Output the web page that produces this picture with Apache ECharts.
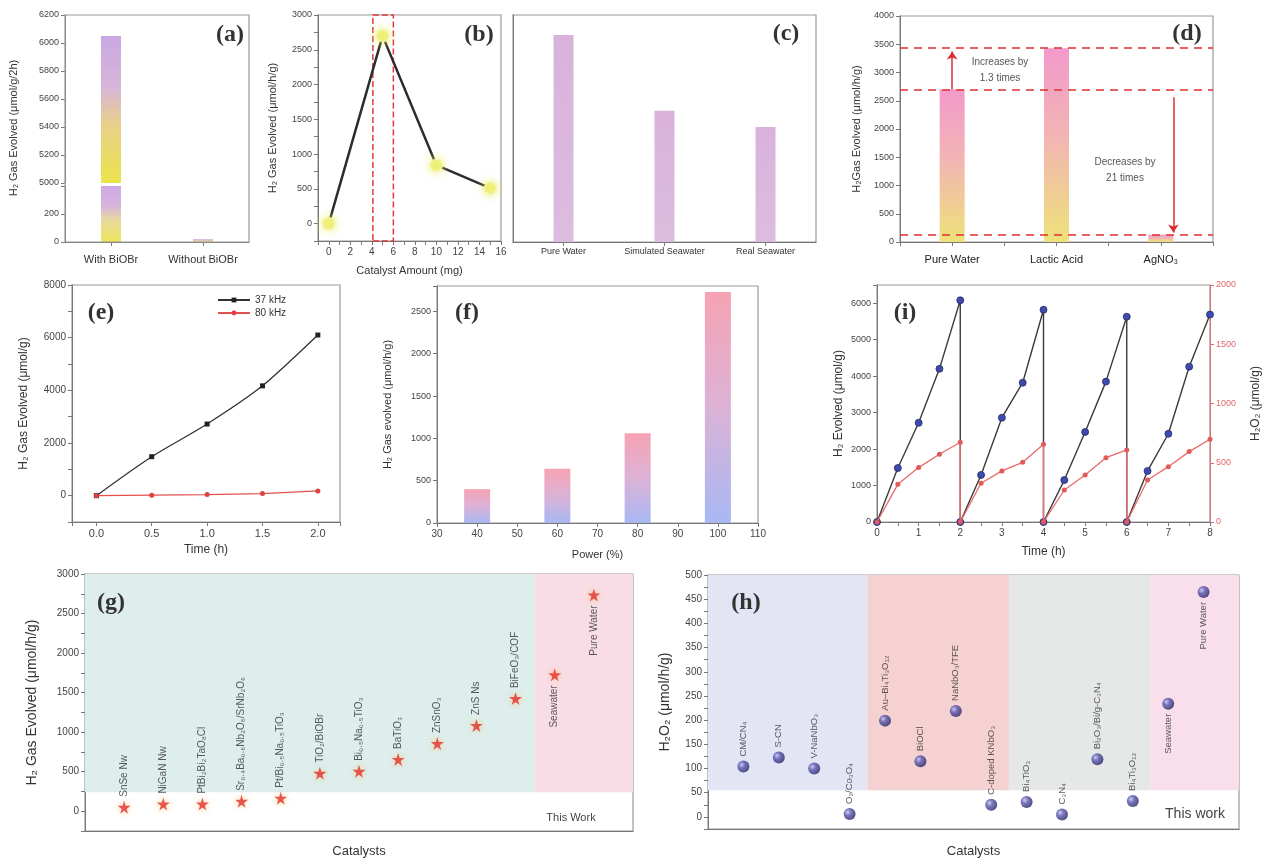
<!DOCTYPE html>
<html>
<head>
<meta charset="utf-8">
<script src="https://cdn.jsdelivr.net/npm/echarts@6/dist/echarts.min.js"></script>
<style>
  html, body { margin: 0; padding: 0; background: #fff; }
  #chart { width: 1277px; height: 859px; }
</style>
</head>
<body>
<div id="chart"></div>
<script>
// (a) with / without catalyst, broken y axis
const aLabels = ['With BiOBr', 'Without BiOBr'];
const aH2 = [6050, 20];
// (b) catalyst amount
const bAmount = [0, 5, 10, 15];
const bH2 = [0, 2700, 840, 510];
// (c) water source
const cSolutions = ['Pure Water', 'Simulated Seawater', 'Real Seawater'];
const cH2 = [2700, 1710, 1500];
// (d) sacrificial agents
const dSolutions = ['Pure Water', 'Lactic Acid', 'AgNO₃'];
const dH2 = [2700, 3430, 129];
// (e) frequency
const eTime = [0, 0.5, 1.0, 1.5, 2.0];
const e37 = [0, 1480, 2720, 4170, 6100];
const e80 = [0, 20, 40, 80, 180];
// (f) ultrasonic power
const fPower = [40, 60, 80, 100];
const fH2 = [400, 640, 1060, 2730];
// (i) cycling, H2 and H2O2
const iTime = [0, 0.5, 1, 1.5, 2, 2, 2.5, 3, 3.5, 4, 4, 4.5, 5, 5.5, 6, 6, 6.5, 7, 7.5, 8];
const iH2 = [0, 1480, 2720, 4200, 6080, 0, 1290, 2860, 3820, 5820, 0, 1150, 2470, 3850, 5630, 0, 1400, 2420, 4260, 5690];
const iH2O2 = [0, 318, 459, 572, 673, 0, 327, 431, 504, 656, 0, 270, 397, 543, 608, 0, 355, 467, 594, 698];
// (g) H2 comparison
const gCatalysts = ['SnSe Nw', 'NiGaN Nw', 'PtBi₂Bi₂TaO₈Cl', 'Sr₀.₄Ba₀.₆Nb₂O₆/SrNb₂O₆', 'Pt/Bi₀.₅Na₀.₅TiO₃', 'TiO₂/BiOBr',
  'Bi₀.₅Na₀.₅TiO₃', 'BaTiO₃', 'ZnSnO₃', 'ZnS Ns', 'BiFeO₃/COF', 'Seawater', 'Pure Water'];
const gH2 = [50, 90, 90, 125, 165, 480, 505, 655, 855, 1085, 1425, 1725, 2735];
// (h) H2O2 comparison
const hCatalysts = ['CM/CN₄', 'S-CN', 'V-NaNbO₃', 'O₂/Co₃O₄', 'Au–Bi₄Ti₃O₁₂', 'BiOCl', 'NaNbO₃/TFE', 'C-doped KNbO₃',
  'Bi₄TiO₃', 'C₃N₄', 'Bi₂O₃/Bi/g-C₃N₄', 'Bi₄Ti₃O₁₂', 'Seawater', 'Pure Water'];
const hH2O2 = [104, 123, 100, 6, 199, 115, 219, 25, 31, 5, 119, 33, 234, 465];
const thisWorkCount = 2; // last entries of g and h

const FONT = '"Liberation Sans", Arial, sans-serif';
const SERIF = '"Liberation Serif", "Times New Roman", serif';
const AXIS = '#777';
const A_LOW_MAX = 400;

function merge(base, extra) {
  for (const k in extra) {
    const v = extra[k];
    if (v && typeof v === 'object' && !Array.isArray(v) && base[k] && typeof base[k] === 'object') {
      base[k] = merge(Object.assign({}, base[k]), v);
    } else {
      base[k] = v;
    }
  }
  return base;
}

function box(left, top, right, bottom, show) {
  return {left, top, width: right - left, height: bottom - top, show: show !== false,
    borderColor: '#9a9a9a', borderWidth: 1.2, backgroundColor: 'transparent'};
}

function axis(type, gridIndex, extra) {
  return merge({
    type, gridIndex,
    axisLine: {show: true, onZero: false, lineStyle: {color: AXIS}},
    axisTick: {show: true, length: 4, lineStyle: {color: AXIS}},
    axisLabel: {fontSize: 10, color: '#444', fontFamily: FONT, margin: 6, formatter: v => String(v)},
    splitLine: {show: false},
    nameLocation: 'middle',
    nameTextStyle: {fontSize: 12, color: '#333', fontFamily: FONT}
  }, extra || {});
}

const every = (step, minShown) => v => (v >= (minShown || 0) && Math.abs(v / step - Math.round(v / step)) < 1e-6) ? String(Math.round(v * 100) / 100) : '';

function grad(stops) {
  return {type: 'linear', x: 0, y: 0, x2: 0, y2: 1, colorStops: stops.map(s => ({offset: s[0], color: s[1]}))};
}

const starPath = 'path://M50,0 L61,35 L98,35 L68,57 L79,91 L50,70 L21,91 L32,57 L2,35 L39,35 Z';
const sphere = {type: 'radial', x: 0.35, y: 0.35, r: 0.75, colorStops: [
  {offset: 0, color: '#c4c4f4'}, {offset: 0.35, color: '#5a58b0'}, {offset: 1, color: '#1d1c58'}]};

function catLabel(names, size) {
  return {
    show: true, position: 'top', rotate: 90, align: 'left', verticalAlign: 'middle',
    distance: 4, fontSize: size, color: '#333', fontFamily: FONT,
    formatter: p => names[p.dataIndex]
  };
}
function catData(values) {
  return values.map((v, i) => {
    const item = {value: [i + 1, v]};
    if (i >= values.length - thisWorkCount) {
      item.label = {position: 'bottom', align: 'right'};
    }
    return item;
  });
}

const grids = [
  box(65, 15, 249, 183, false),   // 0 a top
  box(65, 186, 249, 242, false),  // 1 a bottom
  box(318, 15, 501, 241),         // 2 b
  box(513, 15, 816, 242),         // 3 c
  box(900, 16, 1213, 242),        // 4 d
  box(72, 285, 340, 522),         // 5 e
  box(437, 286, 758, 523),        // 6 f
  box(877, 285, 1210, 522),       // 7 i
  box(85, 574, 633, 832),         // 8 g
  box(708, 575, 1239, 832)        // 9 h
];

const xAxes = [
  axis('category', 0, {data: aLabels, show: false}),
  axis('category', 1, {data: aLabels, axisTick: {alignWithLabel: true},
    axisLabel: {fontSize: 11, color: '#333', margin: 12}}),
  axis('value', 2, {min: -1, max: 16, interval: 1, axisLabel: {formatter: every(2)},
    name: 'Catalyst Amount (mg)', nameGap: 24, nameTextStyle: {fontSize: 11}}),
  axis('category', 3, {data: cSolutions, axisTick: {alignWithLabel: true},
    axisLabel: {fontSize: 9, color: '#333', margin: 5, interval: 0}}),
  axis('value', 4, {min: -0.5, max: 2.5, interval: 0.5,
    axisLabel: {fontSize: 11, color: '#222', margin: 12,
      formatter: v => (Math.abs(v - Math.round(v)) < 1e-6 && v >= 0) ? dSolutions[Math.round(v)] : ''}}),
  axis('value', 5, {min: -0.22, max: 2.2, axisLabel: {fontSize: 11,
      formatter: v => (v >= 0 && Math.abs(v * 2 - Math.round(v * 2)) < 1e-6) ? v.toFixed(1) : ''},
    name: 'Time (h)', nameGap: 22, nameTextStyle: {fontSize: 12}}),
  axis('value', 6, {min: 30, max: 110, interval: 10, axisLabel: {fontSize: 10},
    name: 'Power (%)', nameGap: 26, nameTextStyle: {fontSize: 11}}),
  axis('value', 7, {min: 0, max: 8, interval: 0.5, axisLabel: {fontSize: 10, formatter: every(1)},
    name: 'Time (h)', nameGap: 24, nameTextStyle: {fontSize: 12}}),
  axis('value', 8, {min: 0, max: 14, axisTick: {show: false}, axisLabel: {show: false},
    name: 'Catalysts', nameGap: 14, nameTextStyle: {fontSize: 13}}),
  axis('value', 9, {min: 0, max: 15, axisTick: {show: false}, axisLabel: {show: false},
    name: 'Catalysts', nameGap: 16, nameTextStyle: {fontSize: 13}})
];

const yAxes = [
  axis('value', 0, {min: 5000, max: 6200, interval: 200, axisLabel: {fontSize: 9}}),
  axis('value', 1, {min: 0, max: A_LOW_MAX, interval: 200,
    axisLabel: {fontSize: 9, formatter: v => v < A_LOW_MAX ? String(v) : ''}}),
  axis('value', 2, {min: -250, max: 3000, interval: 250, axisLabel: {fontSize: 9, formatter: every(500)},
    name: 'H₂ Gas Evolved (μmol/h/g)', nameGap: 40, nameTextStyle: {fontSize: 11}}),
  axis('value', 3, {min: 0, max: 2960, axisTick: {show: false}, axisLabel: {show: false}}),
  axis('value', 4, {min: 0, max: 4000, interval: 500, axisLabel: {fontSize: 9},
    name: 'H₂Gas Evolved (μmol/h/g)', nameGap: 38, nameTextStyle: {fontSize: 11}}),
  axis('value', 5, {min: -1000, max: 8000, interval: 1000, axisLabel: {fontSize: 10, formatter: every(2000)},
    name: 'H₂ Gas Evolved (μmol/g)', nameGap: 42, nameTextStyle: {fontSize: 12}}),
  axis('value', 6, {min: 0, max: 2800, interval: 500, axisLabel: {fontSize: 9, formatter: every(500)},
    name: 'H₂ Gas evolved (μmol/h/g)', nameGap: 44, nameTextStyle: {fontSize: 11}}),
  axis('value', 7, {min: 0, max: 6500, interval: 1000, axisLabel: {fontSize: 9, formatter: every(1000)},
    name: 'H₂ Evolved (μmol/g)', nameGap: 32, nameTextStyle: {fontSize: 12}}),
  axis('value', 7, {position: 'right', min: 0, max: 2000, interval: 500,
    axisLine: {lineStyle: {color: '#e07070'}}, axisTick: {lineStyle: {color: '#e07070'}},
    axisLabel: {fontSize: 9, color: '#e06a6a'},
    name: 'H₂O₂ (μmol/g)', nameGap: 40, nameTextStyle: {fontSize: 12}}),
  axis('value', 8, {min: -250, max: 3000, interval: 250, axisLabel: {fontSize: 10, formatter: every(500)},
    name: 'H₂ Gas Evolved (μmol/h/g)', nameGap: 46, nameTextStyle: {fontSize: 14}}),
  axis('value', 9, {min: -25, max: 500, interval: 25, axisLabel: {fontSize: 10, formatter: every(50)},
    name: 'H₂O₂ (μmol/h/g)', nameGap: 36, nameTextStyle: {fontSize: 14}})
];

const series = [
  // (a) upper segment
  {type: 'bar', xAxisIndex: 0, yAxisIndex: 0, barWidth: 20, data: aH2,
    itemStyle: {color: grad([[0, '#c9a8e3'], [0.35, '#d7b6d9'], [0.6, '#e8cf8a'], [1, '#ece44a']])}},
  // (a) lower segment
  {type: 'bar', xAxisIndex: 1, yAxisIndex: 1, barWidth: 20, data: aH2.map(v => Math.min(v, A_LOW_MAX)),
    itemStyle: {color: grad([[0, '#cda9e4'], [0.35, '#d6b3dc'], [0.6, '#e6d8a0'], [1, '#efe65c']])}},
  // (b)
  {type: 'line', xAxisIndex: 2, yAxisIndex: 2, data: bAmount.map((x, i) => [x, bH2[i]]),
    symbol: 'circle', symbolSize: 12, z: 3,
    lineStyle: {color: '#2d2d2d', width: 2.5},
    itemStyle: {color: '#eef07a', borderColor: '#f6f6b0', borderWidth: 1, shadowBlur: 8, shadowColor: '#eeee60'},
    markArea: {silent: true, itemStyle: {color: 'rgba(0,0,0,0)', borderColor: '#e03a3a', borderWidth: 1.5, borderType: 'dashed'},
      data: [[{xAxis: 4.1, yAxis: -250}, {xAxis: 6, yAxis: 3000}]]}},
  // (c)
  {type: 'bar', xAxisIndex: 3, yAxisIndex: 3, barWidth: 20, data: cH2,
    itemStyle: {color: grad([[0, '#d9b2dc'], [1, '#dcbcdf']])}},
  // (d)
  {type: 'bar', xAxisIndex: 4, yAxisIndex: 4, barWidth: 25, data: dH2.map((v, i) => [i, v]),
    itemStyle: {color: grad([[0, '#f29acb'], [0.45, '#f2b4b4'], [1, '#eee27a']])},
    markLine: {silent: true, symbol: 'none', label: {show: false},
      lineStyle: {color: '#e03030', type: [8, 6], width: 1.6},
      data: dH2.map(v => ({yAxis: v}))}},
  {type: 'line', xAxisIndex: 4, yAxisIndex: 4, data: [],
    markLine: {silent: true, symbol: ['none', 'arrow'], symbolSize: 8, label: {show: false},
      lineStyle: {color: '#d83030', type: 'solid', width: 1.5},
      data: [
        [{coord: [0, dH2[0]]}, {coord: [0, dH2[1] - 60]}],
        [{coord: [2.12, 2560]}, {coord: [2.12, dH2[2] + 40]}]
      ]}},
  // (e)
  {name: '37 kHz', type: 'line', xAxisIndex: 5, yAxisIndex: 5, data: eTime.map((t, i) => [t, e37[i]]),
    smooth: 0.3, symbol: 'rect', symbolSize: 5, lineStyle: {color: '#333', width: 1.3}, itemStyle: {color: '#222'}},
  {name: '80 kHz', type: 'line', xAxisIndex: 5, yAxisIndex: 5, data: eTime.map((t, i) => [t, e80[i]]),
    symbol: 'circle', symbolSize: 5, lineStyle: {color: '#e45050', width: 1.3}, itemStyle: {color: '#e04040'}},
  // (f)
  {type: 'bar', xAxisIndex: 6, yAxisIndex: 6, barWidth: 26, data: fPower.map((x, i) => [x, fH2[i]]),
    itemStyle: {color: grad([[0, '#f6a3b3'], [0.5, '#dcb2d6'], [1, '#a8b8f3']])}},
  // (i)
  {type: 'line', xAxisIndex: 7, yAxisIndex: 7, data: iTime.map((t, i) => [t, iH2[i]]),
    symbol: 'circle', symbolSize: 7, z: 3, lineStyle: {color: '#3a3a3a', width: 1.4},
    itemStyle: {color: '#3d4bb0', borderColor: '#2a2a60', borderWidth: 0.8}},
  {type: 'line', xAxisIndex: 7, yAxisIndex: 8, data: iTime.map((t, i) => [t, iH2O2[i]]),
    symbol: 'circle', symbolSize: 5, z: 4, lineStyle: {color: '#e86a6a', width: 1.3},
    itemStyle: {color: '#e05a5a'}},
  // (g) background groups
  {type: 'line', xAxisIndex: 8, yAxisIndex: 9, data: [], z: 1,
    markArea: {silent: true, data: [
      [{xAxis: 0, yAxis: 240, itemStyle: {color: '#ddeeec'}}, {xAxis: 11.5, yAxis: 3000}],
      [{xAxis: 11.5, yAxis: 240, itemStyle: {color: '#f9dde6'}}, {xAxis: 14, yAxis: 3000}]
    ]}},
  {type: 'scatter', xAxisIndex: 8, yAxisIndex: 9, z: 5, data: catData(gH2),
    symbol: starPath, symbolSize: 13,
    itemStyle: {color: '#e2302c', shadowBlur: 7, shadowColor: '#f7c070'},
    label: catLabel(gCatalysts, 10)},
  // (h) background groups
  {type: 'line', xAxisIndex: 9, yAxisIndex: 10, data: [], z: 1,
    markArea: {silent: true, data: [
      [{xAxis: 0, yAxis: 55, itemStyle: {color: '#e3e5f4'}}, {xAxis: 4.5, yAxis: 500}],
      [{xAxis: 4.5, yAxis: 55, itemStyle: {color: '#f6d1d1'}}, {xAxis: 8.5, yAxis: 500}],
      [{xAxis: 8.5, yAxis: 55, itemStyle: {color: '#e5e8e7'}}, {xAxis: 12.5, yAxis: 500}],
      [{xAxis: 12.5, yAxis: 55, itemStyle: {color: '#f8dfeb'}}, {xAxis: 15, yAxis: 500}]
    ]}},
  {type: 'scatter', xAxisIndex: 9, yAxisIndex: 10, z: 5, data: catData(hH2O2),
    symbol: 'circle', symbolSize: 12, itemStyle: {color: sphere},
    label: catLabel(hCatalysts, 9.5)}
];

function text(x, y, str, size, extra) {
  return merge({type: 'text', x, y, z: 100,
    style: {text: str, fontSize: size, fontFamily: FONT, fill: '#333', align: 'center', verticalAlign: 'middle'}}, extra || {});
}
function letter(x, y, str) {
  return text(x, y, str, 24, {style: {fontFamily: SERIF, fontWeight: 'bold', fill: '#333'}});
}

const graphics = [
  {type: 'rect', shape: {x: 65, y: 15, width: 184, height: 227}, z: 50,
    style: {fill: 'none', stroke: '#9a9a9a', lineWidth: 1.2}},
  text(14, 128, 'H₂ Gas Evolved (μmol/g/2h)', 11, {rotation: Math.PI / 2}),
  letter(230, 35, '(a)'),
  letter(479, 35, '(b)'),
  letter(786, 34, '(c)'),
  letter(1187, 34, '(d)'),
  letter(101, 313, '(e)'),
  letter(467, 313, '(f)'),
  letter(905, 313, '(i)'),
  letter(111, 603, '(g)'),
  letter(746, 603, '(h)'),
  text(1000, 70, 'Increases by\n1.3 times', 10, {style: {lineHeight: 16, fill: '#555'}}),
  text(1125, 170, 'Decreases by\n21 times', 10, {style: {lineHeight: 16, fill: '#555'}}),
  text(571, 818, 'This Work', 11, {style: {fill: '#444'}}),
  text(1195, 814, 'This work', 14, {style: {fill: '#444'}})
];

const chart = echarts.init(document.getElementById('chart'), null, {renderer: 'canvas'});
chart.setOption({
  animation: false,
  backgroundColor: '#fff',
  textStyle: {fontFamily: FONT},
  grid: grids,
  xAxis: xAxes,
  yAxis: yAxes,
  legend: {data: ['37 kHz', '80 kHz'], left: 212, top: 290, orient: 'vertical',
    itemWidth: 32, itemHeight: 6, itemGap: 3, textStyle: {fontSize: 10, color: '#333'}},
  series: series,
  graphic: graphics
});
</script>
</body>
</html>
